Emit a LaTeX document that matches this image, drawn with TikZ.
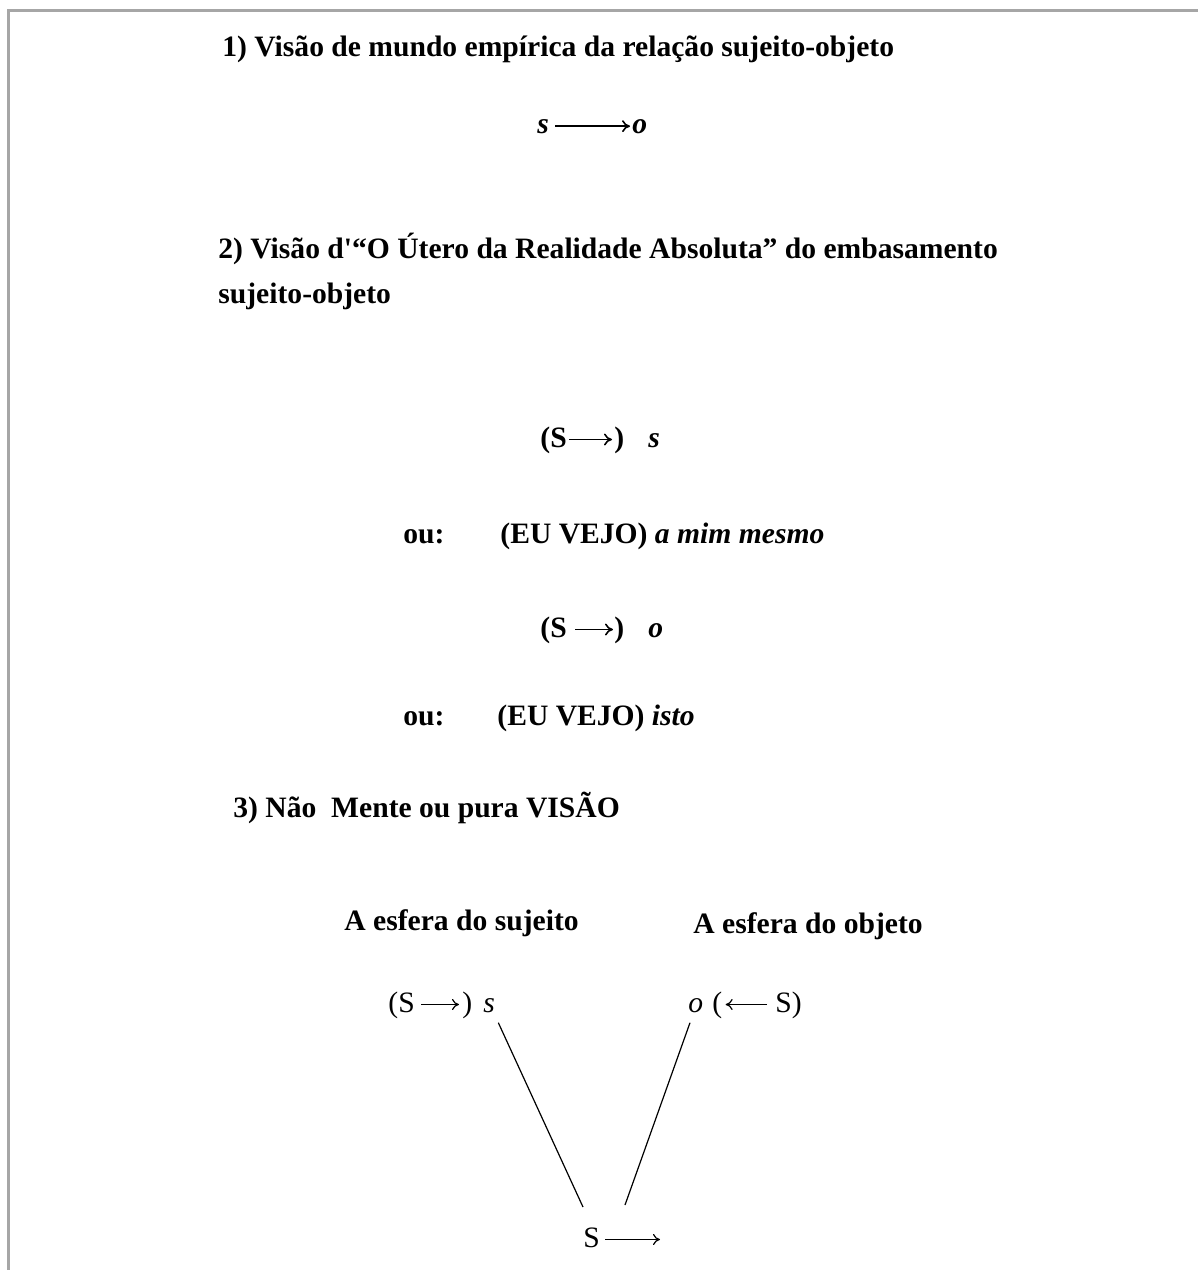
\documentclass[tikz,border=0pt]{standalone}
\usepackage{fontspec}
\setmainfont{Liberation Serif}
\newfontfamily\aposfont{Liberation Serif}
\usetikzlibrary{arrows.meta}
\begin{document}
\begin{tikzpicture}[x=0.5pt,y=-0.5pt,
  bt/.style={inner sep=0pt, anchor=base west, font=\fontsize{14.8}{17.8}\selectfont\bfseries},
  bit/.style={inner sep=0pt, anchor=base west, font=\fontsize{14.8}{17.8}\selectfont\bfseries\itshape},
  rt/.style={inner sep=0pt, anchor=base west, font=\fontsize{14.8}{17.8}\selectfont},
  rit/.style={inner sep=0pt, anchor=base west, font=\fontsize{14.8}{17.8}\selectfont\itshape},
  arr/.style={-{To[length=4pt,width=6pt]}, line width=0.8pt},
  arrthin/.style={-{To[length=3.5pt,width=5.5pt]}, line width=0.6pt},
  conn/.style={line width=0.6pt},
  frame/.style={line width=1.5pt, draw=gray!70}]
\useasboundingbox (0,0) rectangle (1198,1270);
\fill[white] (0,0) rectangle (1198,1270);
\draw[frame] (8,1270) -- (8,10) -- (1198,10);

% section 1
\node[bt] (h1) at (222,56) {1) Visão de mundo empírica da relação sujeito-objeto};
\node[bit] (s1) at (537,133) {s};
\node[bit] (o1) at (632,133) {o};
\draw[arr] ([xshift=3pt]s1.east) -- ([xshift=-1pt]o1.west);

% section 2
\node[bt] (h2a) at (218,258) {2) Visão d{\aposfont\bfseries '}“O Útero da Realidade Absoluta” do embasamento};
\node[bt] (h2b) at (218,303) {sujeito-objeto};

\node[bt] (pa) at (540,447) {(S};
\node[bt] (ca) at (614,447) {)};
\node[bit] (sa) at (648,447) {s};
\draw[arr] ([shift={(2,-7.5)}]pa.base east) -- ([shift={(-2,-7.5)}]ca.base west);

\node[bt] (ou1) at (403,543) {ou:};
\node[bt] (eu1) at (500,543) {(EU VEJO) \textit{a mim mesmo}};

\node[bt] (pb) at (540,637) {(S};
\node[bt] (cb) at (614,637) {)};
\node[bit] (ob) at (648,637) {o};
\draw[arr] ([shift={(8,-7.5)}]pb.base east) -- ([shift={(-1,-7.5)}]cb.base west);

\node[bt] (ou2) at (403,725) {ou:};
\node[bt] (eu2) at (497,725) {(EU VEJO) \textit{isto}};

% section 3
\node[bt] (h3) at (233,817) {3) Não\ \ Mente ou pura VISÃO};
\node[bt] (esu) at (344,930) {A esfera do sujeito};
\node[bt] (eob) at (693,933) {A esfera do objeto};

\node[rt] (pc) at (388,1012) {(S};
\node[rt] (cc) at (462,1012) {)};
\node[rit] (sc) at (483,1012) {s};
\draw[arrthin] ([shift={(6,-7.5)}]pc.base east) -- ([shift={(-3,-7.5)}]cc.base west);

\node[rit] (oc) at (688,1012) {o};
\node[rt] (pd) at (712,1012) {(};
\node[rt] (sd) at (775,1012) {S)};
\draw[arrthin] ([shift={(-8,-7.5)}]sd.base west) -- ([shift={(3,-7.5)}]pd.base east);

\node[rt] (S) at (583,1247) {S};
\coordinate (aend) at (660,1239.5);
\draw[arrthin] ([shift={(5,-7.5)}]S.base east) -- (aend);

\draw[conn] ([shift={(3,10)}]sc.south east) -- ([shift={(0,-20)}]S.north west);
\draw[conn] ([shift={(2,10)}]oc.south west) -- ([shift={(42,-22)}]S.north west);
\end{tikzpicture}
\end{document}
